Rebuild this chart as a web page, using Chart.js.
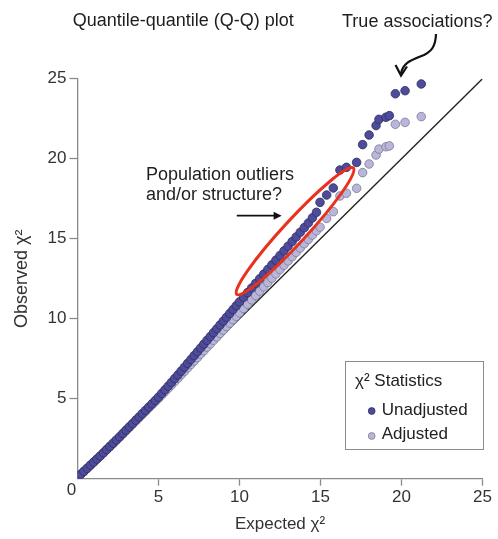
<!DOCTYPE html>
<html>
<head>
<meta charset="utf-8">
<script src="https://cdn.jsdelivr.net/npm/chart.js@4.4.0/dist/chart.umd.min.js"></script>
<style>
  html, body { margin: 0; padding: 0; background: #fff; }
</style>
</head>
<body>
<canvas id="qqChart" width="498" height="539"></canvas>
<script>
/* ========================
   Q-Q DATA (chi-square quantiles)
=========================*/
const expected = [
  0, 0.2, 0.4, 0.6, 0.8, 1.0, 1.2, 1.4, 1.6, 1.8,
  2.0, 2.2, 2.4, 2.6, 2.8, 3.0, 3.2, 3.4, 3.6, 3.8,
  4.0, 4.2, 4.4, 4.6, 4.8, 5.0, 5.2, 5.4, 5.6, 5.8,
  6.0, 6.2, 6.4, 6.6, 6.8, 7.0, 7.2, 7.4, 7.6, 7.8,
  8.0, 8.2, 8.4, 8.6, 8.8, 9.0, 9.2, 9.4, 9.6, 9.8,
  10.0, 10.25, 10.5, 10.75, 11.0, 11.25, 11.5, 11.75, 12.0, 12.25,
  12.5, 12.75, 13.0, 13.25, 13.5, 13.75, 14.0, 14.25, 14.5, 14.75,
  14.97, 15.38, 15.79, 16.2, 16.6, 17.23, 17.6, 18.0, 18.43, 18.61,
  19.04, 19.25, 19.62, 20.22, 21.22
];

const unadjusted = [
  0.08, 0.27, 0.46, 0.65, 0.85, 1.04, 1.23, 1.42, 1.62, 1.82,
  2.02, 2.22, 2.42, 2.62, 2.83, 3.04, 3.24, 3.45, 3.66, 3.86,
  4.07, 4.27, 4.48, 4.68, 4.89, 5.10, 5.33, 5.56, 5.79, 6.02,
  6.26, 6.49, 6.73, 6.97, 7.21, 7.45, 7.69, 7.93, 8.17, 8.41,
  8.65, 8.89, 9.13, 9.37, 9.61, 9.85, 10.09, 10.33, 10.57, 10.81,
  11.05, 11.34, 11.63, 11.92, 12.21, 12.50, 12.79, 13.08, 13.37, 13.66,
  13.95, 14.24, 14.53, 14.82, 15.11, 15.40, 15.69, 15.98, 16.30, 16.65,
  17.27, 17.73, 18.17, 19.29, 19.46, 19.77, 20.88, 21.48, 22.07, 22.46,
  22.59, 22.69, 24.06, 24.25, 24.67
];

const adjusted = [
  0.10, 0.28, 0.46, 0.65, 0.84, 1.03, 1.22, 1.41, 1.61, 1.81,
  2.00, 2.20, 2.40, 2.60, 2.80, 3.00, 3.20, 3.40, 3.61, 3.81,
  4.01, 4.21, 4.42, 4.62, 4.82, 5.02, 5.23, 5.44, 5.65, 5.86,
  6.07, 6.28, 6.50, 6.71, 6.93, 7.14, 7.36, 7.57, 7.79, 8.00,
  8.22, 8.43, 8.65, 8.86, 9.08, 9.29, 9.51, 9.72, 9.94, 10.15,
  10.37, 10.64, 10.91, 11.18, 11.45, 11.72, 11.99, 12.26, 12.53, 12.80,
  13.07, 13.34, 13.61, 13.88, 14.15, 14.42, 14.69, 14.96, 15.23, 15.50,
  15.72, 16.27, 16.69, 17.67, 17.84, 18.15, 19.13, 19.67, 20.23, 20.60,
  20.75, 20.80, 22.15, 22.27, 22.63
];

// y = x reference line end points
const identity = [0, 25];
const axisRange = [0, 25];
const tickStep = 5;

const FONT = '"Liberation Sans", Arial, Helvetica, sans-serif';
const DARK = '#4f4b9b';
const DARK_EDGE = '#2f2d62';
const LIGHT = '#b8b6da';
const LIGHT_EDGE = '#7c7b90';
const AXIS = '#8a8a8a';

const toPoints = ys => expected.map((x, i) => ({ x: x, y: ys[i] }));

/* ==========================
   NOTES, ARROWS, LEGEND BOX
===========================*/
const notesPlugin = {
  id: 'qqNotes',
  afterDraw(chart) {
    const { ctx, scales: { x, y } } = chart;
    const P = (vx, vy) => [x.getPixelForValue(vx), y.getPixelForValue(vy)];

    ctx.save();
    ctx.fillStyle = '#1e1e1e';
    ctx.textAlign = 'left';
    ctx.textBaseline = 'alphabetic';
    ctx.font = '18px ' + FONT;

    let p = P(-0.3, 28.3);
    ctx.fillText('Quantile-quantile (Q-Q) plot', p[0], p[1]);
    p = P(16.33, 28.25);
    ctx.fillText('True associations?', p[0], p[1]);
    p = P(4.23, 18.67);
    ctx.fillText('Population outliers', p[0], p[1]);
    p = P(4.23, 17.39);
    ctx.fillText('and/or structure?', p[0], p[1]);

    // origin label shared by both axes
    ctx.fillStyle = '#333';
    ctx.font = '17px ' + FONT;
    ctx.textAlign = 'center';
    ctx.textBaseline = 'middle';
    p = P(0, 0);
    ctx.fillText('0', p[0] - 6, p[1] + 12);

    // red ellipse round the inflated band
    const c = P(13.43, 15.47);
    ctx.strokeStyle = '#e8321e';
    ctx.lineWidth = 3;
    ctx.beginPath();
    ctx.ellipse(c[0], c[1], 86, 11.5, -47.3 * Math.PI / 180, 0, Math.PI * 2);
    ctx.stroke();

    // straight arrow pointing at the band
    ctx.strokeStyle = '#111';
    ctx.fillStyle = '#111';
    ctx.lineWidth = 1.6;
    const a = P(9.83, 16.44), b = P(12.6, 16.44);
    ctx.beginPath();
    ctx.moveTo(a[0], a[1]);
    ctx.lineTo(b[0] - 6, b[1]);
    ctx.stroke();
    ctx.beginPath();
    ctx.moveTo(b[0], b[1]);
    ctx.lineTo(b[0] - 8, b[1] - 4);
    ctx.lineTo(b[0] - 8, b[1] + 4);
    ctx.closePath();
    ctx.fill();

    // curved arrow down to the top hits
    const t = P(19.97, 25.2);
    ctx.lineWidth = 2.2;
    ctx.lineJoin = 'miter';
    ctx.beginPath();
    ctx.moveTo(t[0] + 35, t[1] - 41.5);
    ctx.bezierCurveTo(t[0] + 34.5, t[1] - 29.5, t[0] + 31, t[1] - 24.5, t[0] + 23, t[1] - 20.5);
    ctx.bezierCurveTo(t[0] + 11, t[1] - 15.5, t[0] + 2, t[1] - 13.5, t[0], t[1] - 2);
    ctx.stroke();
    ctx.beginPath();
    ctx.moveTo(t[0] - 5.5, t[1] - 10.5);
    ctx.lineTo(t[0], t[1]);
    ctx.lineTo(t[0] + 6, t[1] - 9);
    ctx.stroke();

    // legend box
    const tl = P(16.51, 7.36), br = P(25.0, 1.86);
    ctx.fillStyle = '#fff';
    ctx.fillRect(tl[0], tl[1], br[0] - tl[0], br[1] - tl[1]);
    ctx.strokeStyle = '#8c8c8c';
    ctx.lineWidth = 1;
    ctx.strokeRect(Math.round(tl[0]) + 0.5, Math.round(tl[1]) + 0.5,
      Math.round(br[0] - tl[0]), Math.round(br[1] - tl[1]));

    ctx.textAlign = 'left';
    ctx.textBaseline = 'alphabetic';
    ctx.fillStyle = '#222';
    ctx.font = '17px ' + FONT;
    p = P(17.13, 5.79);
    ctx.fillText('\u03c7\u00b2 Statistics', p[0], p[1]);

    const rows = [
      { label: 'Unadjusted', fill: DARK, edge: DARK_EDGE, dotY: 4.23, textY: 3.98 },
      { label: 'Adjusted', fill: LIGHT, edge: LIGHT_EDGE, dotY: 2.67, textY: 2.46 }
    ];
    rows.forEach(r => {
      const d = P(18.16, r.dotY);
      ctx.beginPath();
      ctx.arc(d[0], d[1], 3.4, 0, Math.PI * 2);
      ctx.fillStyle = r.fill;
      ctx.fill();
      ctx.lineWidth = 0.8;
      ctx.strokeStyle = r.edge;
      ctx.stroke();
      const q = P(18.78, r.textY);
      ctx.fillStyle = '#222';
      ctx.fillText(r.label, q[0], q[1]);
    });

    ctx.restore();
  }
};

/* ==========================
   SCATTER (Q-Q)
===========================*/
const ctxQQ = document.getElementById('qqChart').getContext('2d');

const tickFont = { family: FONT, size: 17 };
const noZero = v => (v === 0 ? '' : v);
const tickColor = c => (c.tick && c.tick.value === 0 ? 'rgba(0,0,0,0)' : AXIS);

new Chart(ctxQQ, {
  type: 'scatter',
  data: {
    datasets: [
      {
        label: 'Unadjusted',
        data: toPoints(unadjusted),
        backgroundColor: DARK,
        borderColor: DARK_EDGE,
        borderWidth: 0.8,
        pointRadius: 4.3
      },
      {
        label: 'Adjusted',
        data: toPoints(adjusted),
        backgroundColor: LIGHT,
        borderColor: LIGHT_EDGE,
        borderWidth: 0.8,
        pointRadius: 4.3
      },
      {
        type: 'line',
        label: 'y = x',
        data: identity.map(v => ({ x: v, y: v })),
        borderColor: '#222',
        borderWidth: 1.4,
        pointRadius: 0,
        fill: false
      }
    ]
  },
  options: {
    responsive: false,
    animation: false,
    layout: { padding: { top: 78.7, right: 15.5, bottom: 0, left: 0 } },
    plugins: {
      legend: { display: false },
      tooltip: { enabled: false }
    },
    scales: {
      x: {
        type: 'linear',
        min: axisRange[0],
        max: axisRange[1],
        afterFit: s => { s.height = 60.3; },
        border: { color: AXIS, width: 1.3 },
        grid: { drawOnChartArea: false, tickLength: 7, tickWidth: 1.3, tickColor: tickColor },
        ticks: { stepSize: tickStep, color: '#333', font: tickFont, padding: 1, callback: noZero, maxRotation: 0 },
        title: {
          display: true,
          text: 'Expected \u03c7\u00b2',
          color: '#333',
          font: { family: FONT, size: 17 },
          padding: { top: 0, bottom: 4 }
        }
      },
      y: {
        type: 'linear',
        min: axisRange[0],
        max: axisRange[1],
        afterFit: s => { s.width = 77.5; },
        border: { color: AXIS, width: 1.3 },
        grid: { drawOnChartArea: false, tickLength: 8, tickWidth: 1.3, tickColor: tickColor },
        ticks: { stepSize: tickStep, color: '#333', font: tickFont, padding: 3, callback: noZero },
        title: {
          display: true,
          text: 'Observed \u03c7\u00b2',
          color: '#333',
          font: { family: FONT, size: 18 },
          padding: { top: 11, bottom: 0 }
        }
      }
    }
  },
  plugins: [notesPlugin]
});
</script>
</body>
</html>
